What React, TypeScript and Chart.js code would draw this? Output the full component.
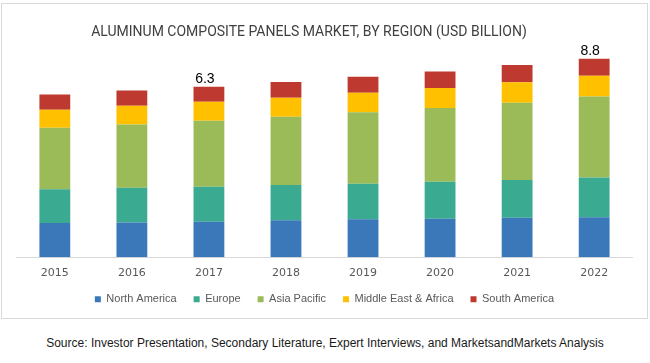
import React, { useEffect, useRef } from "react";
import { Chart, registerables } from "chart.js";

Chart.register(...registerables);

const YEARS = ["2015", "2016", "2017", "2018", "2019", "2020", "2021", "2022"];
const NORTH_AMERICA = [1.52, 1.55, 1.58, 1.64, 1.69, 1.71, 1.76, 1.78];
const EUROPE = [1.5, 1.54, 1.55, 1.57, 1.58, 1.64, 1.67, 1.76];
const ASIA_PACIFIC = [2.73, 2.81, 2.93, 3.03, 3.17, 3.28, 3.43, 3.6];
const MIDDLE_EAST_AFRICA = [0.8, 0.83, 0.84, 0.84, 0.86, 0.89, 0.91, 0.92];
const SOUTH_AMERICA = [0.68, 0.67, 0.67, 0.7, 0.71, 0.73, 0.77, 0.75];
const TOTAL_LABELS = ["", "", "6.3", "", "", "", "", "8.8"];

const SERIES_NAMES = ["North America", "Europe", "Asia Pacific", "Middle East & Africa", "South America"];
const SERIES_COLORS = ["#3a78b9", "#3aaa91", "#9bbb59", "#ffc000", "#be3a30"];

const totalLabelPlugin = {
  id: "totalLabels",
  afterDatasetsDraw(chart: any) {
    const ctx = chart.ctx;
    const meta = chart.getDatasetMeta(chart.data.datasets.length - 1);
    ctx.save();
    ctx.font = "14px 'Liberation Sans', Arial, sans-serif";
    ctx.fillStyle = "#000000";
    ctx.textAlign = "center";
    ctx.textBaseline = "alphabetic";
    TOTAL_LABELS.forEach((t, i) => {
      if (!t) return;
      const el = meta.data[i];
      ctx.fillText(t, el.x - 4, el.y - 4);
    });
    ctx.restore();
  },
};

export default function App() {
  const ref = useRef<HTMLCanvasElement | null>(null);

  useEffect(() => {
    document.body.style.margin = "0";
    const seriesValues = [NORTH_AMERICA, EUROPE, ASIA_PACIFIC, MIDDLE_EAST_AFRICA, SOUTH_AMERICA];
    const chart = new Chart(ref.current as HTMLCanvasElement, {
      type: "bar",
      data: {
        labels: YEARS,
        datasets: seriesValues.map((vals, i) => ({
          label: SERIES_NAMES[i],
          data: vals,
          backgroundColor: SERIES_COLORS[i],
          borderWidth: 0,
          categoryPercentage: 1,
          barPercentage: 0.4,
        })),
      },
      options: {
        responsive: false,
        animation: false,
        devicePixelRatio: 1,
        layout: { padding: { left: 14.3, right: 14.3, top: 39.3, bottom: 3.2 } },
        plugins: {
          title: { display: false },
          legend: {
            position: "bottom",
            labels: {
              boxWidth: 6,
              boxHeight: 6,
              padding: 17,
              color: "#595959",
              font: { family: "'Liberation Sans', Arial, sans-serif", size: 11 },
            },
          },
          tooltip: { enabled: false },
        },
        scales: {
          x: {
            stacked: true,
            grid: { display: false, drawTicks: false },
            border: { display: true, color: "#d9d9d9", width: 1 },
            ticks: {
              padding: 9,
              color: "#595959",
              font: { family: "'DejaVu Sans', sans-serif", size: 11 },
            },
            afterFit: (scale: any) => {
              scale.height = 19.5;
            },
          },
          y: {
            stacked: true,
            display: false,
            min: 0,
            max: 9.5,
          },
        },
      },
      plugins: [totalLabelPlugin],
    } as any);
    return () => chart.destroy();
  }, []);

  return (
    <div style={{ position: "absolute", left: 0, top: 0, width: 650, height: 363, background: "#ffffff" }}>
      <div
        style={{
          position: "absolute",
          left: 1,
          top: 3,
          width: 647,
          height: 316,
          border: "1px solid #d9d9d9",
          boxSizing: "border-box",
        }}
      >
        <canvas ref={ref} width={645} height={314} style={{ display: "block", width: 645, height: 314 }} />
      </div>
      <div
        style={{
          position: "absolute",
          left: 0,
          top: 22,
          width: 618,
          textAlign: "center",
          fontFamily: "Roboto, 'Liberation Sans', sans-serif",
          fontSize: 14,
          lineHeight: "18px",
          color: "#404040",
          whiteSpace: "nowrap",
        }}
      >
        ALUMINUM COMPOSITE PANELS MARKET, BY REGION (USD BILLION)
      </div>
      <div
        style={{
          position: "absolute",
          left: 0,
          top: 335,
          width: 650,
          textAlign: "center",
          fontFamily: "'Liberation Sans', Arial, sans-serif",
          fontSize: 12,
          lineHeight: "16px",
          color: "#1a1a1a",
          whiteSpace: "nowrap",
        }}
      >
        Source: Investor Presentation, Secondary Literature, Expert Interviews, and MarketsandMarkets Analysis
      </div>
    </div>
  );
}
